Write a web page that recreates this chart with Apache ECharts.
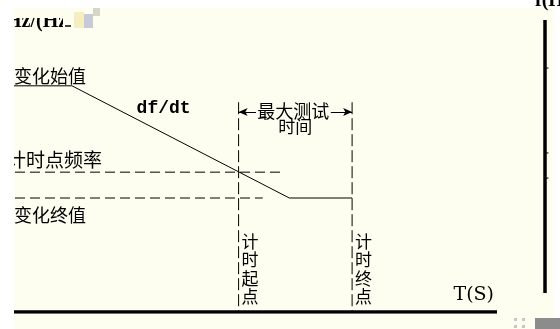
<!DOCTYPE html>
<html><head><meta charset="utf-8">
<script src="https://cdn.jsdelivr.net/npm/echarts@6/dist/echarts.min.js"></script>
<style>html,body{margin:0;padding:0;background:#ffffff;}#c{width:560px;height:329px;}</style>
</head><body><div id="c"></div>
<script>
// ---- data (abstract time / frequency units) ----
const curveT = [0, 1.2, 5.7, 7.0];            // frequency curve breakpoints (time)
const curveF = [37.2, 37.2, 18.75, 18.75];     // frequency curve values
const levelNames = ['变化始值', '计时点频率', '变化终值'];
const levelF = [37.2, 23.0, 18.75];
const dashFromT = -0.29;
const dashToT = [5.55, 5.15];                 // reference dashed lines end (for levels 2,3)
const timingNames = ['计时起点', '计时终点'];
const timingT = [4.65, 7.0];
const timingTopF = 34.5;
const bracketF = 32.9;
const bracketText = ['最大测试', '时间'];
const slopeLabel = 'df/dt';
const xAxisName = 'T(S)';
const yAxisName = 'Hz/(Hz/s)';
const rightAxisName = 'f(Hz)';
const axisEndT = 10;
// second (cropped) figure on the right
const rightAxisF = [0, 100];
const rightTicksF = [82.4, 51.3, 42.1];

const BG = '#fefef0';
const chart = echarts.init(document.getElementById('c'), null, {renderer: 'canvas'});

const blk = '#000';
const series = [];
// base axis line
series.push({type: 'line', xAxisIndex: 0, yAxisIndex: 0, symbol: 'none', silent: true,
  data: [[0, 0], [axisEndT, 0]], lineStyle: {color: blk, width: 3.5}, z: 5});
// frequency curve
series.push({type: 'line', xAxisIndex: 0, yAxisIndex: 0, symbol: 'none', silent: true,
  data: curveT.map((t, i) => [t, curveF[i]]), lineStyle: {color: blk, width: 1},
  markLine: {silent: true, symbolSize: [6, 9], lineStyle: {color: blk, width: 1, type: 'solid'}, label: {show: false},
    data: [
      [{coord: [timingT[0], bracketF], symbol: 'arrow'}, {coord: [timingT[0] + 0.36, bracketF], symbol: 'none'}],
      [{coord: [timingT[1] - 0.44, bracketF], symbol: 'none'}, {coord: [timingT[1], bracketF], symbol: 'arrow'}]
    ]}
});
// horizontal dashed reference levels
[1, 2].forEach((k, j) => {
  series.push({type: 'line', xAxisIndex: 0, yAxisIndex: 0, symbol: 'none', silent: true,
    data: [[dashFromT, levelF[k]], [dashToT[j], levelF[k]]], lineStyle: {color: blk, width: 1, type: [10, 5]}});
});
// vertical dashed timing lines
timingT.forEach(t => {
  series.push({type: 'line', xAxisIndex: 0, yAxisIndex: 0, symbol: 'none', silent: true,
    data: [[t, timingTopF], [t, 0]], lineStyle: {color: blk, width: 1, type: [12, 4]}});
});
// right cropped figure
series.push({type: 'line', xAxisIndex: 1, yAxisIndex: 1, symbol: 'none', silent: true,
  data: [[0, rightAxisF[0]], [0, rightAxisF[1]]], lineStyle: {color: blk, width: 3.5}});
rightTicksF.forEach(f => {
  series.push({type: 'line', xAxisIndex: 1, yAxisIndex: 1, symbol: 'none', silent: true,
    data: [[0, f], [0.35, f]], lineStyle: {color: blk, width: 1}});
});

const option = {
  backgroundColor: 'transparent',
  animation: false,
  grid: [
    {left: 0, right: 63, top: 8, bottom: 17, show: false},
    {left: 545, width: 10, top: 20, bottom: 36, show: false}
  ],
  xAxis: [
    {type: 'value', gridIndex: 0, min: dashFromT, max: axisEndT, show: false},
    {type: 'value', gridIndex: 1, min: 0, max: 1, show: false}
  ],
  yAxis: [
    {type: 'value', gridIndex: 0, min: 0, max: 50, show: false},
    {type: 'value', gridIndex: 1, min: rightAxisF[0], max: rightAxisF[1], show: false}
  ],
  series: series
};
chart.setOption(option);

const P = (t, f) => chart.convertToPixel({gridIndex: 0}, [t, f]);
const cjk = '"Noto Sans CJK SC", sans-serif';
const g = [];
// backgrounds
g.push({type: 'rect', z: -10, shape: {x: 0, y: 0, width: 560, height: 329}, style: {fill: '#ffffff'}});
g.push({type: 'rect', z: -9, shape: {x: 14, y: 8, width: 540, height: 321}, style: {fill: BG}});

// level labels
const p0 = P(0, levelF[0]);
g.push({type: 'text', z: 50, x: p0[0], y: p0[1] - 1, style: {text: levelNames[0], font: '18px ' + cjk, fill: blk, textAlign: 'left', textVerticalAlign: 'bottom'}});
const p1 = P(0, levelF[1]);
g.push({type: 'text', z: 50, x: p1[0] - 7, y: p1[1] - 3, style: {text: levelNames[1], font: '19px ' + cjk, fill: blk, textAlign: 'left', textVerticalAlign: 'bottom'}});
const p2 = P(0, levelF[2]);
g.push({type: 'text', z: 50, x: p2[0], y: p2[1] + 8, style: {text: levelNames[2], font: '18px ' + cjk, fill: blk, textAlign: 'left', textVerticalAlign: 'top'}});

// df/dt
const ps = P(2.6, 30.0);
g.push({type: 'text', z: 50, x: ps[0] + 24, y: ps[1] - 12, style: {text: slopeLabel, font: 'bold 18px "Liberation Mono", monospace', fill: blk, textAlign: 'center', textVerticalAlign: 'bottom'}});

// bracket text
const pb = P((timingT[0] + timingT[1]) / 2, bracketF);
g.push({type: 'text', z: 50, x: pb[0] - 2, y: pb[1] - 10, style: {text: bracketText[0], font: '18px ' + cjk, fill: blk, textAlign: 'center', textVerticalAlign: 'top'}});
g.push({type: 'text', z: 50, x: pb[0], y: pb[1] + 6, style: {text: bracketText[1], font: '17px ' + cjk, fill: blk, textAlign: 'center', textVerticalAlign: 'top'}});

// vertical timing labels
timingT.forEach((t, i) => {
  const p = P(t, 0);
  g.push({type: 'text', z: 50, x: p[0] + 3, y: p[1] - 80, style: {text: timingNames[i].split('').join('\n'), font: '17px ' + cjk, lineHeight: 18.5, fill: blk, textAlign: 'left', textVerticalAlign: 'top'}});
});

// axis name
const pe = P(axisEndT, 0);
g.push({type: 'text', z: 50, x: pe[0] - 3, y: pe[1] - 7, style: {text: xAxisName, font: '19px "DejaVu Serif", serif', fill: blk, textAlign: 'right', textVerticalAlign: 'bottom'}});

// cropped y-axis name (top-left), top part hidden
g.push({type: 'text', z: 40, x: 6, y: 32, style: {text: yAxisName, font: 'bold 20px "Liberation Serif", serif', fill: blk, textAlign: 'left', textVerticalAlign: 'bottom'}});
g.push({type: 'rect', z: 45, shape: {x: 0, y: 0, width: 200, height: 18}, style: {fill: BG}});
g.push({type: 'rect', z: 46, shape: {x: 0, y: 0, width: 560, height: 8}, style: {fill: '#ffffff'}});
g.push({type: 'rect', z: 45, shape: {x: 63, y: 16, width: 140, height: 18}, style: {fill: BG}});
// small image artifact
g.push({type: 'rect', z: 47, shape: {x: 74, y: 12, width: 10, height: 16}, style: {fill: '#f4eec0'}});
g.push({type: 'rect', z: 47, shape: {x: 84, y: 14, width: 9, height: 14}, style: {fill: '#c8cad8'}});
g.push({type: 'rect', z: 47, shape: {x: 93, y: 8, width: 7, height: 8}, style: {fill: '#d6d6c8'}});
g.push({type: 'rect', z: 47, shape: {x: 65, y: 25, width: 6, height: 2}, style: {fill: '#444444'}});

// right cropped figure name
g.push({type: 'text', z: 50, x: 535, y: 11, style: {text: rightAxisName, font: 'bold 20px "Liberation Serif", serif', fill: blk, textAlign: 'left', textVerticalAlign: 'bottom'}});

// left white band
g.push({type: 'rect', z: 60, shape: {x: 0, y: 0, width: 14, height: 329}, style: {fill: '#ffffff'}});
// bottom-right artifacts
g.push({type: 'rect', z: 60, shape: {x: 535, y: 318, width: 25, height: 11}, style: {fill: '#8c8c8c'}});
g.push({type: 'rect', z: 60, shape: {x: 514, y: 318, width: 3, height: 3}, style: {fill: '#c8c8c8'}});
g.push({type: 'rect', z: 60, shape: {x: 522, y: 318, width: 3, height: 3}, style: {fill: '#c8c8c8'}});
g.push({type: 'rect', z: 60, shape: {x: 514, y: 325, width: 3, height: 3}, style: {fill: '#c8c8c8'}});
g.push({type: 'rect', z: 60, shape: {x: 522, y: 325, width: 3, height: 3}, style: {fill: '#c8c8c8'}});

chart.setOption({graphic: {elements: g}});
</script>
</body></html>
